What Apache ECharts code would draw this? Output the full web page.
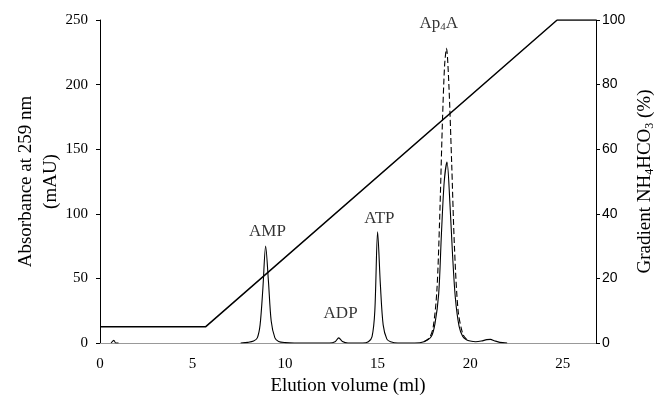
<!DOCTYPE html>
<html>
<head>
<meta charset="utf-8">
<script src="https://cdn.jsdelivr.net/npm/echarts@6/dist/echarts.min.js"></script>
<style>
html,body{margin:0;padding:0;background:#fff;}
#chart{width:665px;height:405px;}
</style>
</head>
<body>
<div id="chart"></div>
<script>
// Elution volume (ml) and absorbance at 259 nm (mAU), solid trace
var solidX = [0.6, 0.75, 0.85, 1.0, null,
  7.6, 8.0, 8.3, 8.5, 8.65, 8.8, 8.95, 9.1, 9.25, 9.45, 9.65, 10.0, 10.5,
  12.4, 12.7, 12.9, 13.1, 13.4,
  14.2, 14.5, 14.7, 14.85, 15.0, 15.15, 15.3, 15.5, 15.7, 16.1,
  17.0, 17.5, 17.9, 18.1, 18.3, 18.45, 18.6, 18.75, 18.9, 19.05, 19.2, 19.4, 19.6, 19.8, 20.0, 20.3, 20.6, 20.9, 21.1, 21.3, 21.6, 22.0];
var solidY = [0, 2, 0, 0, null,
  0, 0.5, 1.5, 4, 14, 42, 75, 48, 17, 4, 1.2, 0.3, 0,
  0, 1, 4, 1.2, 0,
  0, 1, 5, 25, 86, 45, 14, 3, 1, 0,
  0, 1, 5, 15, 38, 85, 125, 140, 110, 68, 35, 13, 5, 2.5, 1.5, 1, 1.5, 2.6, 2.8, 1.8, 0.5, 0];
// Dashed trace around the Ap4A peak
var dashX = [17.5, 17.8, 18.0, 18.2, 18.35, 18.5, 18.62, 18.72, 18.85, 19.0, 19.15, 19.35, 19.6, 19.8];
var dashY = [1, 4, 12, 40, 95, 170, 215, 228, 200, 140, 75, 25, 7, 3];
// Gradient NH4HCO3 (%)
var gradX = [0, 5.7, 24.7, 26.8];
var gradY = [5, 5, 100, 100];
// Peak labels
var labelNames = ['AMP', 'ADP', 'ATP', 'Ap4A'];
var labelX = [9.05, 13.0, 15.1, 18.3];
var labelY = [86, 23, 96, 247];

function zip(xs, ys) {
  var out = [];
  for (var i = 0; i < xs.length; i++) {
    out.push(xs[i] === null ? [null, null] : [xs[i], ys[i]]);
  }
  return out;
}
var labelData = labelNames.map(function (n, i) { return { name: n, value: [labelX[i], labelY[i]] }; });

var serif = '"Liberation Serif", "DejaVu Serif", serif';
var sans = '"Liberation Sans", Arial, sans-serif';

var chart = echarts.init(document.getElementById('chart'));
chart.setOption({
  animation: false,
  backgroundColor: '#fff',
  grid: { left: 100, right: 69, top: 20, bottom: 62, containLabel: false, outerBoundsMode: 'none' },
  xAxis: {
    type: 'value', min: 0, max: 26.8, interval: 5,
    name: 'Elution volume (ml)', nameLocation: 'middle', nameGap: 34, nameMoveOverlap: false,
    nameTextStyle: { fontFamily: serif, fontSize: 19, color: '#000' },
    axisLine: { lineStyle: { color: '#999', width: 1 } },
    axisTick: { show: false },
    splitLine: { show: false },
    axisLabel: { fontFamily: serif, fontSize: 15, color: '#000', margin: 14, showMaxLabel: false }
  },
  yAxis: [{
    type: 'value', min: 0, max: 250, interval: 50, position: 'left',
    name: 'Absorbance at 259 nm\n(mAU)', nameLocation: 'middle', nameGap: 36, nameMoveOverlap: false,
    nameTextStyle: { fontFamily: serif, fontSize: 19, color: '#000', lineHeight: 25, align: 'center' },
    axisLine: { show: true, lineStyle: { color: '#000', width: 1 } },
    axisTick: { show: true, length: 4, lineStyle: { color: '#000' } },
    splitLine: { show: false },
    axisLabel: { fontFamily: serif, fontSize: 15, color: '#000', margin: 12 }
  }, {
    type: 'value', min: 0, max: 100, interval: 20, position: 'right',
    name: '{a|Gradient NH}{s|4}{a|HCO}{s|3}{a| (%)}', nameLocation: 'middle', nameGap: 39, nameMoveOverlap: false,
    nameRotate: 90,
    nameTextStyle: {
      rich: {
        a: { fontFamily: serif, fontSize: 19, color: '#000' },
        s: { fontFamily: serif, fontSize: 12, color: '#000', verticalAlign: 'bottom', padding: [9, 0, 0, 0] }
      }
    },
    axisLine: { show: true, lineStyle: { color: '#000', width: 1 } },
    axisTick: { show: true, length: 4, lineStyle: { color: '#000' } },
    splitLine: { show: false },
    axisLabel: { fontFamily: sans, fontSize: 14, color: '#000', margin: 6 }
  }],
  series: [{
    type: 'line', yAxisIndex: 1, data: zip(gradX, gradY), symbol: 'none',
    lineStyle: { color: '#000', width: 1.5 }, z: 3
  }, {
    type: 'line', yAxisIndex: 0, data: zip(solidX, solidY), symbol: 'none', smooth: 0.3,
    connectNulls: false,
    lineStyle: { color: '#000', width: 1.1 }, z: 4
  }, {
    type: 'line', yAxisIndex: 0, data: zip(dashX, dashY), symbol: 'none', smooth: 0.3,
    lineStyle: { color: '#000', width: 1.1, type: [6, 3] }, z: 4
  }, {
    type: 'scatter', yAxisIndex: 0, data: labelData, symbolSize: 0,
    label: {
      show: true, position: 'inside', color: '#000', fontFamily: serif, fontSize: 17,
      formatter: function (p) {
        if (p.name === 'Ap4A') return '{a|Ap}{s|4}{a|A}';
        return '{a|' + p.name + '}';
      },
      rich: {
        a: { fontFamily: serif, fontSize: 17, color: '#000' },
        s: { fontFamily: serif, fontSize: 11, color: '#000', padding: [7, 0, 0, 0] }
      }
    }, z: 5
  }]
});
</script>
</body>
</html>
